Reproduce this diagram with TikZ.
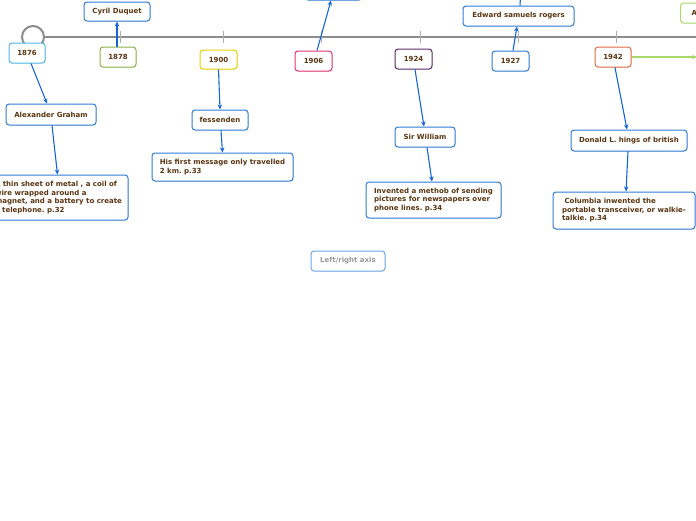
\documentclass[tikz,border=0pt]{standalone}
\usepackage{fontspec}
\setmainfont{DejaVu Sans}
\usetikzlibrary{arrows.meta,calc,shadows}
\definecolor{bblue}{HTML}{2F7BD6}
\definecolor{lblue}{HTML}{6AA8E8}
\definecolor{cyanb}{HTML}{4DB8E8}
\definecolor{greenb}{HTML}{8DB04A}
\definecolor{yellowb}{HTML}{E8D000}
\definecolor{pinkb}{HTML}{E0336F}
\definecolor{purpleb}{HTML}{5C2A6E}
\definecolor{orangeb}{HTML}{E06A4A}
\definecolor{lgreen}{HTML}{A8D86A}
\definecolor{txt}{HTML}{5A3510}
\definecolor{axisgrey}{HTML}{8C8C8C}
\definecolor{arrowblue}{HTML}{1565D8}
\tikzset{
  box/.style={draw=bblue, fill=white, rounded corners=3pt, line width=1pt,
    font=\fontsize{7}{8.5}\selectfont\bfseries\frenchspacing, text=txt, inner sep=0pt,
    drop shadow={opacity=0.12, shadow xshift=0.8pt, shadow yshift=-0.8pt}},
  para/.style={align=left},
  conn/.style={draw=arrowblue, line width=1.1pt, -{Stealth[length=5pt,width=4.5pt]}},
  gconn/.style={draw=lgreen, line width=1.1pt, -{Stealth[length=5pt,width=4.5pt]}},
  axisline/.style={draw=axisgrey, line width=2pt},
  tick/.style={draw=axisgrey!70, line width=1pt}
}
% \bx{name}{x1}{y1}{x2}{y2}{options}{text}
\newcommand{\bx}[7]{%
  \node[box, #6, minimum width={(#4-#2)*1pt}, minimum height={(#5-#3)*1pt}]
    (#1) at ({(#2+#4)/2},{(#3+#5)/2}) {#7};}
\newcommand{\px}[7]{%
  \node[box, para, #6, minimum width={(#4-#2)*1pt}, minimum height={(#5-#3)*1pt}]
    (#1) at ({(#2+#4)/2},{(#3+#5)/2}) {#7};}
\begin{document}
\begin{tikzpicture}[x=1pt,y=-1pt]
\useasboundingbox (0,0) rectangle (696,520);
% axis
\node[draw=axisgrey, line width=2pt, circle, minimum size=22pt, fill=white, inner sep=0pt] (start) at (33,37) {};
\coordinate (axend) at (697,37);
\draw[axisline] (start.east) -- (axend);
\foreach \t in {120,223,321,420,518,616} \draw[tick] (\t,31) -- (\t,43);

% nodes
\bx{n1876}{9}{43}{45}{63}{draw=cyanb}{1876}
\bx{ag}{6}{104}{96}{125}{}{Alexander Graham}
\px{agt}{-11}{175}{128}{220}{}{A thin sheet of metal , a coil of\\wire wrapped around a\\magnet, and a battery to create\\a telephone. p.32}
\bx{n1878}{100}{47}{136}{67}{draw=greenb}{1878}
\bx{cd}{84}{2}{150}{21}{}{Cyril Duquet}
\bx{n1900}{200}{50}{237}{69}{draw=yellowb}{1900}
\bx{fes}{192}{110}{248}{130}{}{fessenden}
\px{fest}{152}{153}{293}{181}{}{His first message only travelled\\2 km. p.33}
\bx{n1906}{295}{51}{332}{71}{draw=pinkb}{1906}
\bx{top1906}{305}{-20}{362}{0}{}{}
\bx{n1924}{395}{49}{432}{69}{draw=purpleb}{1924}
\bx{sw}{395}{127}{455}{147}{}{Sir William}
\px{swt}{366}{182}{501}{218}{}{Invented a methob of sending\\pictures for newspapers over\\phone lines. p.34}
\bx{n1927}{492}{51}{529}{71}{}{1927}
\bx{esr}{463}{6}{574}{26}{}{Edward samuels rogers}
\coordinate (esrup) at (521,-12);
\bx{n1942}{595}{47}{631}{67}{draw=orangeb}{1942}
\bx{dh}{571}{130}{687}{151}{}{Donald L. hings of british}
\px{col}{553}{192}{695}{229}{}{\ Columbia inwented the\\portable transceiver, or walkie-\\talkie. p.34}
\node[box, draw=lgreen, anchor=west, minimum width=60pt, minimum height=20pt, text width=46pt, align=left, inner xsep=11pt] (topA) at (680,13) {A};
\coordinate (rightend) at (697,57);
\bx{lr}{311}{251}{385}{271}{draw=lblue, text=gray!80}{Left/right axis}

% connectors
\draw[conn] ([xshift=4pt]n1876.south) -- ([xshift=-4pt]ag.north);
\draw[conn] ([xshift=1pt]ag.south) -- ([xshift=-1pt]agt.north);
\draw[conn] ([xshift=-1pt]n1878.north) -- (cd.south);
\draw[conn] (n1900.south) -- (fes.north);
\draw[conn] ([xshift=1pt]fes.south) -- (fest.north);
\draw[conn] ([xshift=3.5pt]n1906.north) -- ([xshift=-2.5pt]top1906.south);
\draw[conn] ([xshift=1.5pt]n1924.south) -- ([xshift=-1pt]sw.north);
\draw[conn] ([xshift=2pt]sw.south) -- ([xshift=-1.5pt]swt.north);
\draw[conn] ([xshift=2.5pt]n1927.north) -- ([xshift=-1.5pt]esr.south);
\draw[conn] ([xshift=1.5pt]esr.north) -- (esrup);
\draw[conn] ([xshift=2pt]n1942.south) -- ([xshift=-2pt]dh.north);
\draw[conn] ([xshift=-1pt]dh.south) -- ([xshift=2pt]col.north);
\draw[gconn] (n1942.east) -- (rightend);
\end{tikzpicture}
\end{document}
